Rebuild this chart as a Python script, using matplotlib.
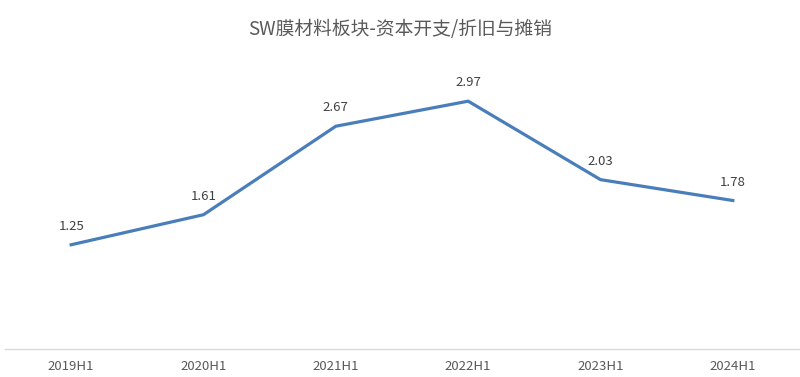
import matplotlib
matplotlib.use("Agg")
import matplotlib.pyplot as plt

plt.rcParams['font.family'] = ['Noto Sans CJK SC', 'DejaVu Sans']

periods = ["2019H1", "2020H1", "2021H1", "2022H1", "2023H1", "2024H1"]
ratio = [1.25, 1.61, 2.67, 2.97, 2.03, 1.78]
title = "SW膜材料板块-资本开支/折旧与摊销"

fig = plt.figure(figsize=(8, 3.77), dpi=100)
ax = fig.add_axes([0.00625, 0.074, 0.9925, 0.775])

x = list(range(len(periods)))
ax.plot(x, ratio, color="#4A7EBB", lw=2.3, solid_joinstyle="miter")
for xi, v in zip(x, ratio):
    ax.annotate(f"{v:.2f}", (xi, v), xytext=(0, 8.5), textcoords="offset points",
                ha="center", va="bottom", fontsize=9.5, color="#404040")

ax.set_xlim(-0.5, len(periods) - 0.5)
ax.set_ylim(0, 3.5)
ax.set_xticks(x)
ax.set_xticklabels(periods, fontsize=9.5, color="#595959")
ax.tick_params(axis="x", length=0, pad=8)
ax.set_yticks([])
for s in ["top", "right", "left"]:
    ax.spines[s].set_visible(False)
ax.spines["bottom"].set_color("#D9D9D9")
ax.spines["bottom"].set_linewidth(1)

fig.text(0.5, 0.922, title, ha="center", va="center", fontsize=13.5, color="#595959")

fig.savefig("out.png", dpi=100)
